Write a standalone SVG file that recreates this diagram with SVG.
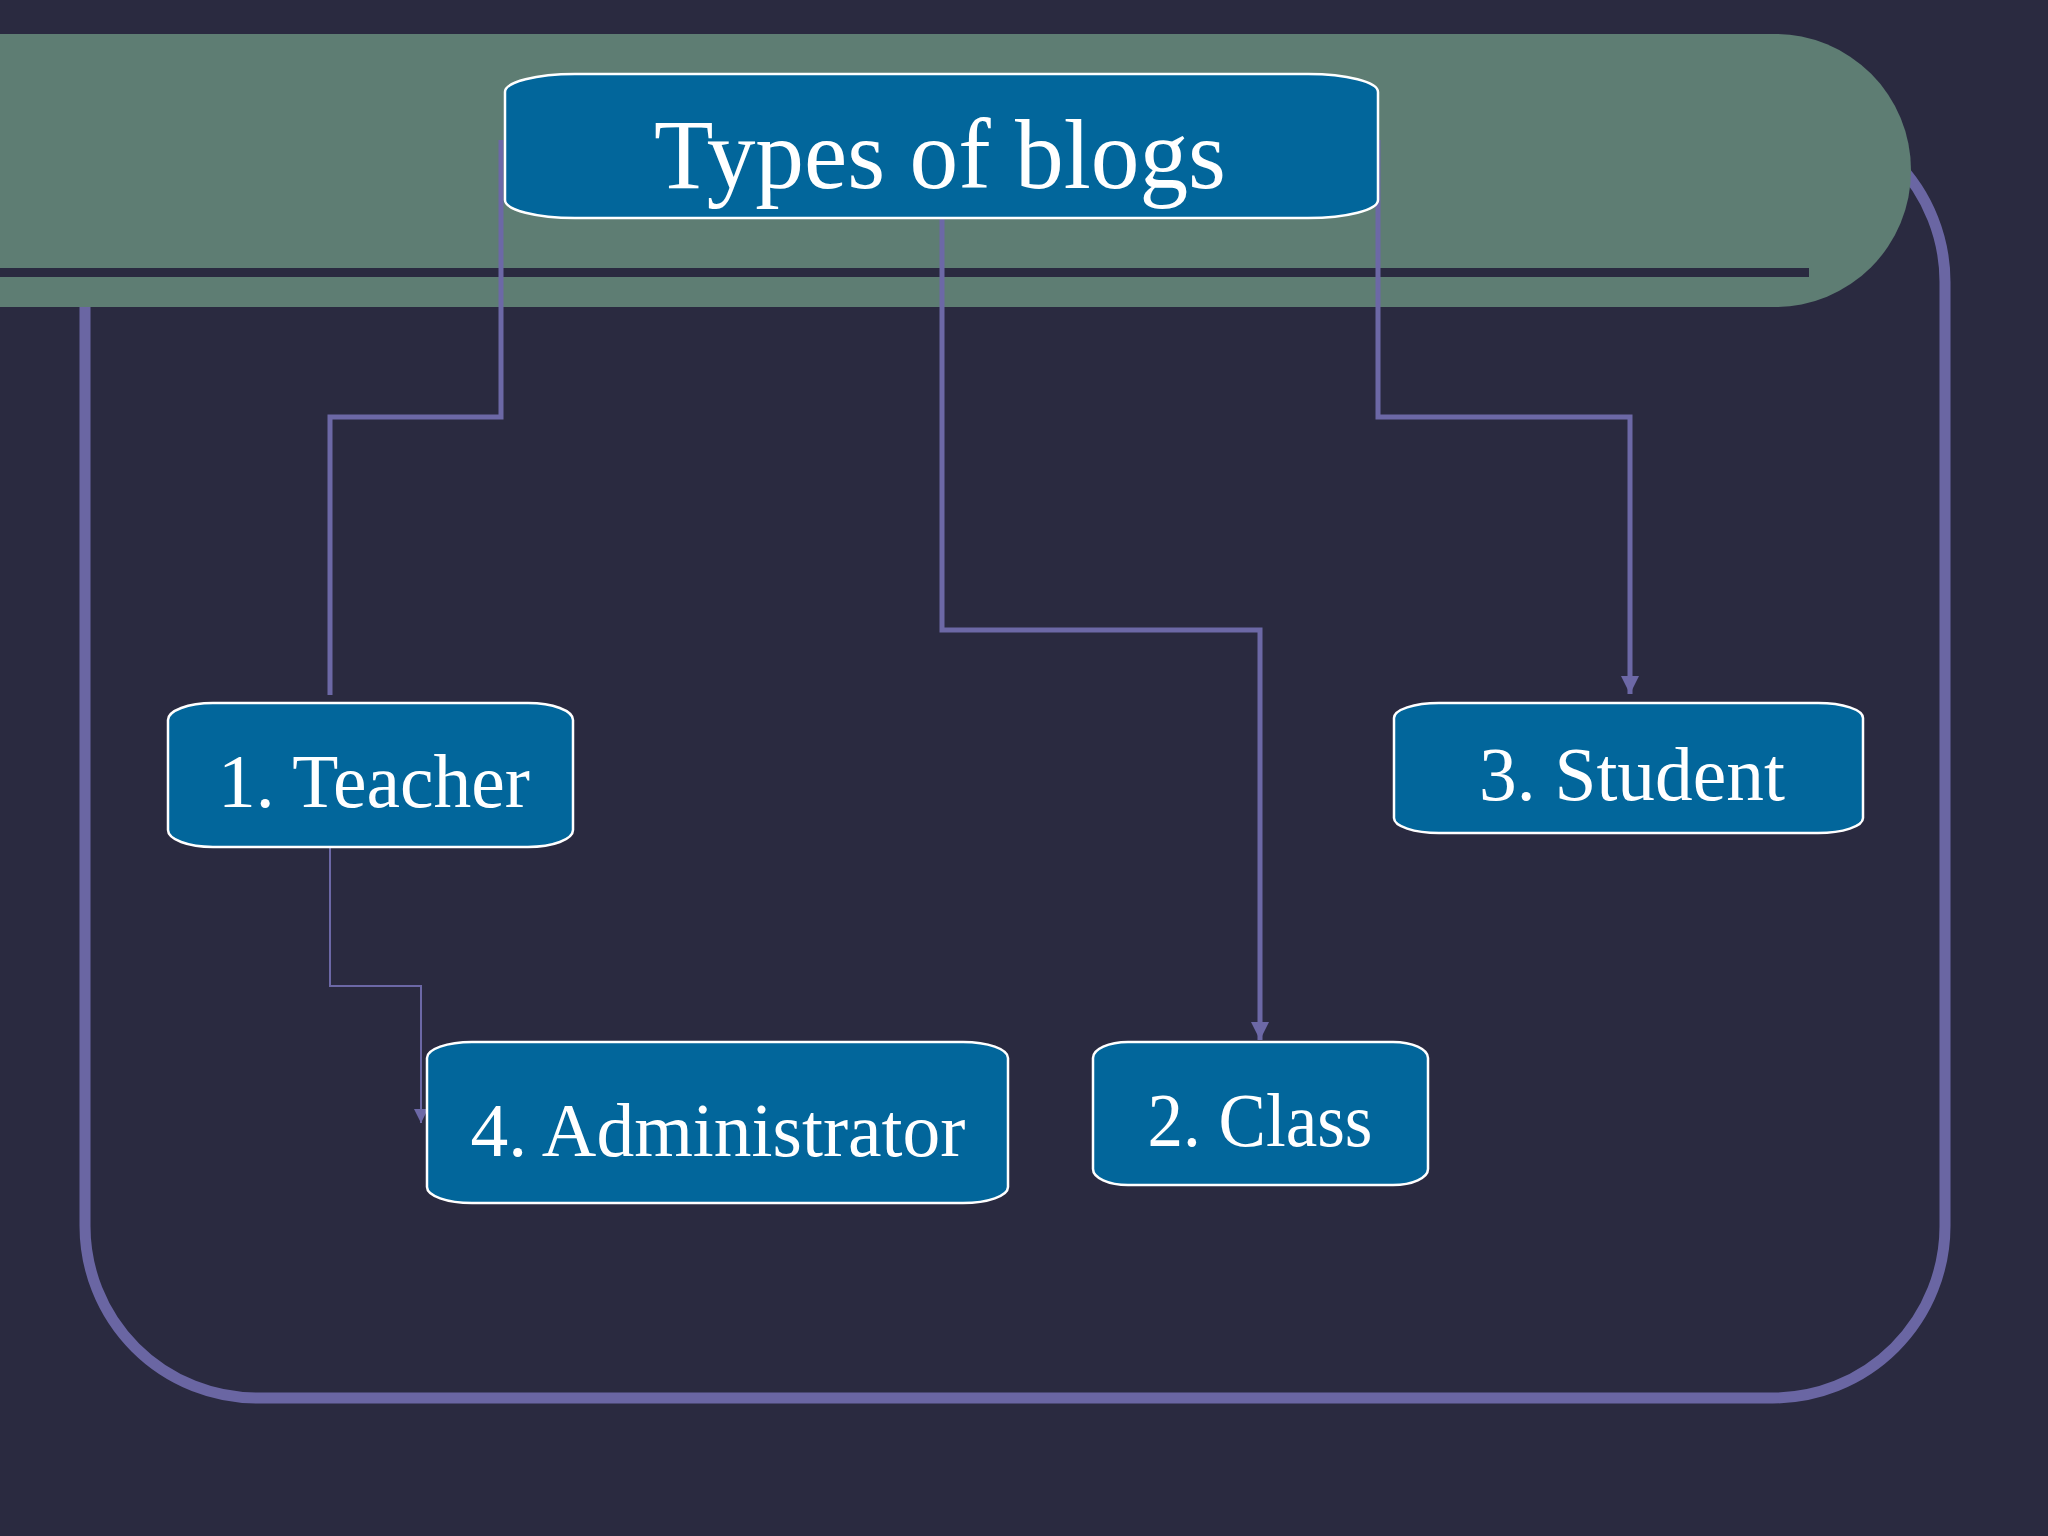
<svg xmlns="http://www.w3.org/2000/svg" width="2048" height="1536" viewBox="0 0 2048 1536">
<defs>
<style>
.box{fill:#02669b;stroke:#ffffff;stroke-width:2.5}
.lbl{font-family:"Liberation Serif","Times New Roman",serif;fill:#ffffff;text-anchor:middle}
.conn{fill:none;stroke:#6c68a6;stroke-width:5}
.thin{fill:none;stroke:#6c68a6;stroke-width:2}
</style>
<marker id="ah" viewBox="0 0 10 10" refX="10" refY="5" markerWidth="4" markerHeight="3.6" markerUnits="strokeWidth" orient="auto">
<path d="M0,0 L10,5 L0,10 z" fill="#6c68a6"/>
</marker>
<marker id="ahs" viewBox="0 0 10 10" refX="10" refY="5" markerWidth="8" markerHeight="7" markerUnits="strokeWidth" orient="auto">
<path d="M0,0 L10,5 L0,10 z" fill="#6c68a6"/>
</marker>
</defs>
<rect x="0" y="0" width="2048" height="1536" fill="#2a2a40"/>
<g id="frame">
<rect x="85" y="110" width="1860" height="1288" rx="172" ry="172" fill="none" stroke="#6a66a3" stroke-width="11"/>
</g>
<g id="band">
<rect x="-200" y="34" width="2111" height="273" rx="136" ry="136" fill="#5e7d73"/>
<rect x="0" y="268" width="1809" height="9" fill="#2a2a40"/>
</g>
<g id="connectors">
<path class="conn" d="M501,140 V417 H330 V695"/>
<path class="conn" d="M942,218 V630 H1260 V1040" marker-end="url(#ah)"/>
<path class="conn" d="M1378,140 V417 H1630 V694" marker-end="url(#ah)"/>
<path class="thin" d="M330,847 V986 H421 V1123" marker-end="url(#ahs)"/>
</g>
<g id="node-title">
<rect class="box" x="505" y="74" width="873" height="144" rx="70" ry="18"/>
<text class="lbl" x="940" y="188" font-size="100" textLength="572" lengthAdjust="spacingAndGlyphs">Types of blogs</text>
</g>
<g id="node-teacher">
<rect class="box" x="168" y="703" width="405" height="144" rx="45" ry="17"/>
<text class="lbl" x="374" y="807" font-size="77" textLength="312" lengthAdjust="spacingAndGlyphs">1. Teacher</text>
</g>
<g id="node-administrator">
<rect class="box" x="427" y="1042" width="581" height="161" rx="45" ry="16"/>
<text class="lbl" x="718" y="1156" font-size="77" textLength="495" lengthAdjust="spacingAndGlyphs">4. Administrator</text>
</g>
<g id="node-class">
<rect class="box" x="1093" y="1042" width="335" height="143" rx="35" ry="16"/>
<text class="lbl" x="1260" y="1146" font-size="77" textLength="225" lengthAdjust="spacingAndGlyphs">2. Class</text>
</g>
<g id="node-student">
<rect class="box" x="1394" y="703" width="469" height="130" rx="45" ry="15"/>
<text class="lbl" x="1632" y="800" font-size="77" textLength="306" lengthAdjust="spacingAndGlyphs">3. Student</text>
</g>
</svg>
